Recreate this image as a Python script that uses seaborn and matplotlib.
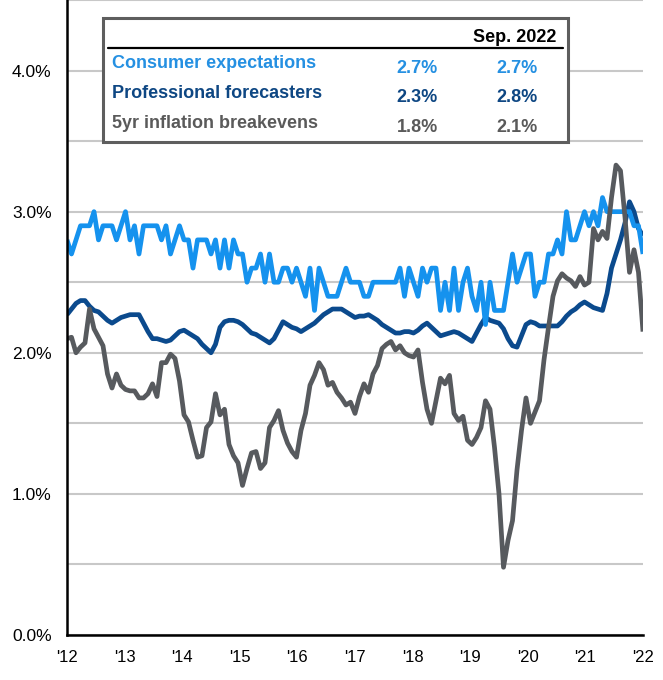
import numpy as np
import pandas as pd
import matplotlib
matplotlib.use("Agg")
import matplotlib.pyplot as plt
import seaborn as sns
from matplotlib.patches import Rectangle
from matplotlib.ticker import FixedLocator, NullFormatter

# ---------------- data (monthly, Jan 2012 .. Sep 2022) ----------------
consumer = [
    2.8, 2.7, 2.8, 2.9, 2.9, 2.9, 3.0, 2.8, 2.9, 2.9,
    2.9, 2.8, 2.9, 3.0, 2.8, 2.9, 2.7, 2.9, 2.9, 2.9,
    2.9, 2.8, 2.9, 2.7, 2.8, 2.9, 2.8, 2.8, 2.6, 2.8,
    2.8, 2.8, 2.7, 2.8, 2.6, 2.8, 2.6, 2.8, 2.7, 2.7,
    2.5, 2.6, 2.6, 2.7, 2.5, 2.7, 2.5, 2.5, 2.6, 2.6,
    2.5, 2.6, 2.5, 2.4, 2.6, 2.3, 2.6, 2.5, 2.4, 2.4,
    2.4, 2.5, 2.6, 2.5, 2.5, 2.5, 2.4, 2.4, 2.5, 2.5,
    2.5, 2.5, 2.5, 2.5, 2.6, 2.4, 2.6, 2.5, 2.4, 2.6,
    2.5, 2.6, 2.6, 2.3, 2.5, 2.3, 2.6, 2.3, 2.5, 2.6,
    2.4, 2.3, 2.5, 2.2, 2.5, 2.3, 2.3, 2.3, 2.5, 2.7,
    2.5, 2.6, 2.7, 2.7, 2.4, 2.5, 2.5, 2.7, 2.7, 2.8,
    2.7, 3.0, 2.8, 2.8, 2.9, 3.0, 2.9, 3.0, 2.9, 3.1,
    3.0, 3.0, 3.0, 3.0, 3.0, 3.0, 2.9, 2.9, 2.7,
]

professional = [
    2.27, 2.31, 2.35, 2.37, 2.37, 2.33, 2.30, 2.29, 2.26, 2.23,
    2.21, 2.23, 2.25, 2.26, 2.27, 2.27, 2.27, 2.21, 2.15, 2.10,
    2.10, 2.09, 2.08, 2.09, 2.12, 2.15, 2.16, 2.14, 2.12, 2.10,
    2.06, 2.03, 2.00, 2.06, 2.18, 2.22, 2.23, 2.23, 2.22, 2.20,
    2.17, 2.14, 2.13, 2.11, 2.09, 2.07, 2.10, 2.16, 2.22, 2.20,
    2.18, 2.17, 2.15, 2.17, 2.19, 2.21, 2.24, 2.27, 2.29, 2.31,
    2.31, 2.31, 2.29, 2.27, 2.25, 2.26, 2.26, 2.27, 2.25, 2.23,
    2.20, 2.18, 2.16, 2.14, 2.14, 2.15, 2.15, 2.14, 2.16, 2.19,
    2.21, 2.18, 2.15, 2.12, 2.13, 2.14, 2.15, 2.14, 2.12, 2.10,
    2.08, 2.14, 2.20, 2.25, 2.23, 2.22, 2.21, 2.17, 2.10, 2.05,
    2.04, 2.12, 2.20, 2.22, 2.21, 2.19, 2.19, 2.19, 2.19, 2.19,
    2.22, 2.26, 2.29, 2.31, 2.34, 2.36, 2.34, 2.32, 2.31, 2.30,
    2.42, 2.60, 2.70, 2.80, 2.92, 3.07, 3.00, 2.88, 2.83,
]

breakevens = [
    2.10, 2.11, 2.00, 2.04, 2.07, 2.31, 2.17, 2.11, 2.05, 1.85,
    1.75, 1.85, 1.77, 1.74, 1.73, 1.73, 1.68, 1.68, 1.71, 1.78,
    1.69, 1.93, 1.93, 1.99, 1.96, 1.80, 1.56, 1.51, 1.38, 1.26,
    1.27, 1.47, 1.51, 1.71, 1.56, 1.60, 1.35, 1.27, 1.22, 1.06,
    1.18, 1.29, 1.30, 1.18, 1.22, 1.47, 1.52, 1.59, 1.45, 1.36,
    1.30, 1.26, 1.45, 1.57, 1.77, 1.84, 1.93, 1.88, 1.77, 1.79,
    1.72, 1.68, 1.63, 1.65, 1.57, 1.69, 1.78, 1.72, 1.85, 1.91,
    2.03, 2.06, 2.08, 2.02, 2.05, 2.00, 1.98, 1.97, 2.02, 1.79,
    1.60, 1.50, 1.66, 1.82, 1.78, 1.84, 1.57, 1.52, 1.55, 1.38,
    1.35, 1.40, 1.47, 1.66, 1.60, 1.33, 1.00, 0.48, 0.67, 0.81,
    1.17, 1.45, 1.68, 1.50, 1.58, 1.66, 1.95, 2.18, 2.40, 2.51,
    2.56, 2.53, 2.51, 2.47, 2.54, 2.48, 2.50, 2.88, 2.80, 2.86,
    2.81, 3.10, 3.33, 3.29, 2.96, 2.57, 2.73, 2.57, 2.15,
]

months = list(range(len(consumer)))
year_labels = ["'12", "'13", "'14", "'15", "'16", "'17", "'18", "'19", "'20", "'21", "'22"]
y_labels = ["0.0%", "1.0%", "2.0%", "3.0%", "4.0%"]

series_names = ["Consumer expectations", "Professional forecasters", "5yr inflation breakevens"]
table_col1 = ["2.7%", "2.3%", "1.8%"]
table_col2 = ["2.7%", "2.8%", "2.1%"]
table_header = "Sep. 2022"

# ---------------- styling ----------------
line_colors = {
    "Consumer expectations": "#1592EE",
    "Professional forecasters": "#0B4A8D",
    "5yr inflation breakevens": "#575A5E",
}
text_colors = ["#2590E2", "#0E4783", "#5A5A5A"]

sns.set_style("white")
plt.rcParams['font.family'] = ['Liberation Sans', 'DejaVu Sans']

df = pd.concat([
    pd.DataFrame({"month": months, "value": consumer, "series": series_names[0]}),
    pd.DataFrame({"month": months, "value": professional, "series": series_names[1]}),
    pd.DataFrame({"month": months, "value": breakevens, "series": series_names[2]}),
], ignore_index=True)

fig = plt.figure(figsize=(6.63, 6.80), dpi=100)
ax = fig.add_axes([67 / 663, 45 / 680, 576 / 663, 635 / 680])

hue_order = [series_names[1], series_names[0], series_names[2]]
sns.lineplot(data=df, x="month", y="value", hue="series", hue_order=hue_order,
             palette=line_colors, linewidth=3.4, ax=ax, legend=False,
             errorbar=None, sort=False)
for ln in ax.get_lines():
    ln.set_solid_joinstyle("round")
    ln.set_solid_capstyle("butt")
    ln.set_zorder(3)

ax.set_xlim(0, len(months) - 1)
ax.set_ylim(0, 4.5)

# y axis: labels at whole percents, grid every half percent
ax.yaxis.set_major_locator(FixedLocator(np.arange(0, 4.01, 1.0)))
ax.set_yticklabels(y_labels)
ax.yaxis.set_minor_locator(FixedLocator(np.arange(0.5, 4.51, 1.0)))
ax.yaxis.set_minor_formatter(NullFormatter())
ax.grid(axis="y", which="both", color="#C8C8C8", linewidth=1.5)
ax.set_axisbelow(True)
ax.tick_params(axis="y", which="both", length=0, pad=11, labelsize=12.5, colors="black")

# x axis
xt = np.linspace(0, len(months) - 1, len(year_labels))
ax.set_xticks(xt)
ax.set_xticklabels(year_labels)
ax.tick_params(axis="x", length=5, width=1.5, direction="out", pad=6, labelsize=12,
               colors="black")

ax.set_xlabel("")
ax.set_ylabel("")
for side in ["top", "right"]:
    ax.spines[side].set_visible(False)
for side in ["left", "bottom"]:
    ax.spines[side].set_color("black")
    ax.spines[side].set_linewidth(1.8)
    ax.spines[side].set_zorder(4)

# ---------------- table box ----------------
box = Rectangle((0.0625, 0.7764), 0.8073, 0.1953, transform=ax.transAxes,
                facecolor="white", edgecolor="#5E5E5E", linewidth=2.2, zorder=6,
                clip_on=False)
ax.add_patch(box)
ax.plot([0.0712, 0.8611], [0.9244, 0.9244], transform=ax.transAxes, color="black",
        linewidth=1.6, zorder=7, clip_on=False)
ax.text(0.7778, 0.9343, table_header, transform=ax.transAxes, ha="center",
        va="baseline", fontsize=13, fontweight="bold", color="black", zorder=8)

label_y = [0.8924, 0.8452, 0.7989]
value_y = [0.8846, 0.8389, 0.7926]
for name, v1, v2, c, ly, vy in zip(series_names, table_col1, table_col2,
                                    text_colors, label_y, value_y):
    ax.text(0.0776, ly, name, transform=ax.transAxes, ha="left", va="baseline",
            fontsize=13, fontweight="bold", color=c, zorder=8)
    ax.text(0.6085, vy, v1, transform=ax.transAxes, ha="center", va="baseline",
            fontsize=13, fontweight="bold", color=c, zorder=8)
    ax.text(0.7813, vy, v2, transform=ax.transAxes, ha="center", va="baseline",
            fontsize=13, fontweight="bold", color=c, zorder=8)

fig.savefig("out.png", dpi=100)
